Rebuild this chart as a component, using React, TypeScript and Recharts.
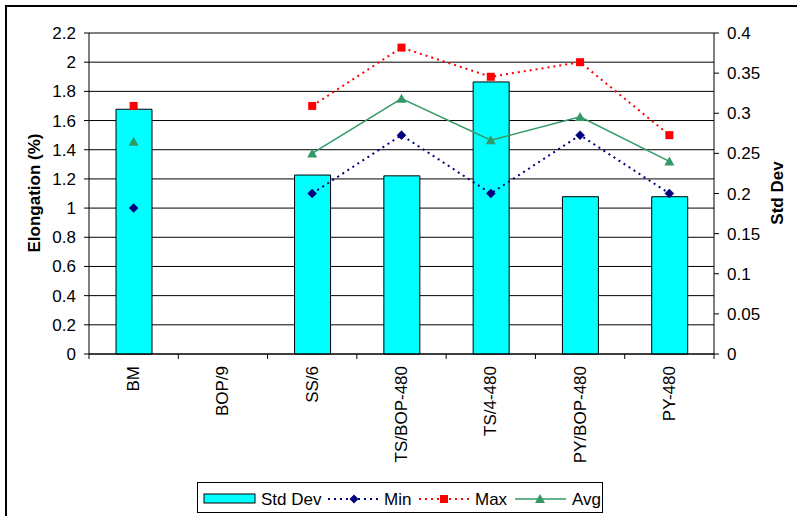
import React from 'react';
import {
  ComposedChart,
  Bar,
  Line,
  XAxis,
  YAxis,
  CartesianGrid,
} from 'recharts';

// Elongation test results per specimen group
const categories = ['BM', 'BOP/9', 'SS/6', 'TS/BOP-480', 'TS/4-480', 'PY/BOP-480', 'PY-480'];
const stdDevValues = [0.305, null, 0.223, 0.222, 0.339, 0.196, 0.196];
const minValues = [1.0, null, 1.1, 1.5, 1.1, 1.5, 1.1];
const maxValues = [1.7, null, 1.7, 2.1, 1.9, 2.0, 1.5];
const avgValues = [1.455, null, 1.375, 1.75, 1.465, 1.625, 1.32];

const leftTicks = [0, 0.2, 0.4, 0.6, 0.8, 1, 1.2, 1.4, 1.6, 1.8, 2, 2.2];
const rightTicks = [0, 0.05, 0.1, 0.15, 0.2, 0.25, 0.3, 0.35, 0.4];

const data = categories.map((name, i) => ({
  name,
  stdDev: stdDevValues[i],
  min: minValues[i],
  max: maxValues[i],
  avg: avgValues[i],
}));

const W = 797;
const H = 516;
const PLOT_LEFT = 89;
const PLOT_RIGHT = 714;
const PLOT_TOP = 33;
const PLOT_BOTTOM = 354;
const BAND = (PLOT_RIGHT - PLOT_LEFT) / categories.length;

const FONT = '"Liberation Sans", Arial, sans-serif';
const FS = 17;

const NAVY = '#000080';
const RED = '#FF0000';
const GREEN = '#339966';
const CYAN = '#00FFFF';

const diamondDot = (props: any) => {
  const { cx, cy, index } = props;
  if (cx == null || cy == null || props.value == null) return <g key={`d-${index}`} />;
  const r = 4.5;
  return (
    <path
      key={`d-${index}`}
      d={`M${cx},${cy - r}L${cx + r},${cy}L${cx},${cy + r}L${cx - r},${cy}Z`}
      fill={NAVY}
      stroke={NAVY}
      strokeWidth={0.5}
    />
  );
};

const squareDot = (props: any) => {
  const { cx, cy, index } = props;
  if (cx == null || cy == null || props.value == null) return <g key={`s-${index}`} />;
  const s = 4;
  return <rect key={`s-${index}`} x={cx - s} y={cy - s} width={2 * s} height={2 * s} fill={RED} />;
};

const triangleDot = (props: any) => {
  const { cx, cy, index } = props;
  if (cx == null || cy == null || props.value == null) return <g key={`t-${index}`} />;
  return (
    <path
      key={`t-${index}`}
      d={`M${cx},${cy - 5}L${cx + 5},${cy + 4}L${cx - 5},${cy + 4}Z`}
      fill={GREEN}
    />
  );
};

// Category label rotated to read bottom-to-top, plus Excel-style boundary tick marks
const CategoryTick = (props: any) => {
  const { x, y, payload, index } = props;
  const left = x - BAND / 2;
  const isLast = index === categories.length - 1;
  return (
    <g>
      <line x1={left} y1={PLOT_BOTTOM} x2={left} y2={PLOT_BOTTOM + 5} stroke="#000" />
      {isLast && (
        <line x1={x + BAND / 2} y1={PLOT_BOTTOM} x2={x + BAND / 2} y2={PLOT_BOTTOM + 5} stroke="#000" />
      )}
      <text
        x={x}
        y={y + 4}
        transform={`rotate(-90 ${x} ${y + 4})`}
        textAnchor="end"
        dominantBaseline="central"
        fontFamily={FONT}
        fontSize={FS}
        fill="#000"
      >
        {payload.value}
      </text>
    </g>
  );
};

const LegendBox = () => (
  <div
    style={{
      position: 'absolute',
      left: 197,
      top: 482,
      width: 406,
      height: 31,
      border: '1px solid #000',
      boxSizing: 'border-box',
      background: '#fff',
    }}
  >
    <svg width={406} height={31} style={{ position: 'absolute', left: 0, top: 0 }}>
      <rect x={6} y={11} width={51} height={9} fill={CYAN} stroke="#000" />
      <text x={63} y={16} dominantBaseline="central" fontFamily={FONT} fontSize={FS}>Std Dev</text>

      <line x1={130} y1={16} x2={181} y2={16} stroke={NAVY} strokeWidth={2} strokeDasharray="2 4" />
      <path d="M156,11.5L160.5,16L156,20.5L151.5,16Z" fill={NAVY} />
      <text x={186} y={16} dominantBaseline="central" fontFamily={FONT} fontSize={FS}>Min</text>

      <line x1={221} y1={16} x2={271} y2={16} stroke={RED} strokeWidth={2} strokeDasharray="2 4" />
      <rect x={242} y={12} width={8} height={8} fill={RED} />
      <text x={277} y={16} dominantBaseline="central" fontFamily={FONT} fontSize={FS}>Max</text>

      <line x1={317} y1={16} x2={368} y2={16} stroke={GREEN} strokeWidth={1.5} />
      <path d="M342,11L347,20L337,20Z" fill={GREEN} />
      <text x={374} y={16} dominantBaseline="central" fontFamily={FONT} fontSize={FS}>Avg</text>
    </svg>
  </div>
);

export default function App() {
  return (
    <div
      style={{
        position: 'absolute',
        left: 0,
        top: 0,
        width: W,
        height: H,
        overflow: 'hidden',
        background: '#fff',
      }}
    >
      <div
        style={{
          position: 'absolute',
          left: 5,
          top: 5,
          width: 900,
          height: 700,
          border: '2px solid #000',
        }}
      />
      <div style={{ position: 'absolute', left: 0, top: 0 }}>
        <ComposedChart
          width={W}
          height={H}
          data={data}
          margin={{ top: PLOT_TOP, right: 0, bottom: 0, left: 0 }}
          barCategoryGap={0}
        >
          <CartesianGrid
            yAxisId="left"
            vertical={false}
            stroke="#000"
            strokeWidth={1}
          />
          <XAxis
            dataKey="name"
            height={H - PLOT_BOTTOM}
            tickLine={false}
            axisLine={{ stroke: '#000' }}
            tick={<CategoryTick />}
            interval={0}
          />
          <YAxis
            yAxisId="left"
            orientation="left"
            width={PLOT_LEFT}
            domain={[0, 2.2]}
            ticks={leftTicks}
            interval={0}
            tickSize={5}
            tickMargin={8}
            axisLine={{ stroke: '#000' }}
            tickLine={{ stroke: '#000' }}
            tick={{ fill: '#000', fontFamily: FONT, fontSize: FS }}
            label={{
              content: () => (
                <text
                  x={34}
                  y={193}
                  transform="rotate(-90 34 193)"
                  textAnchor="middle"
                  dominantBaseline="central"
                  fontFamily={FONT}
                  fontSize={FS}
                  fontWeight="bold"
                  fill="#000"
                >
                  Elongation (%)
                </text>
              ),
            }}
          />
          <YAxis
            yAxisId="right"
            orientation="right"
            width={W - PLOT_RIGHT}
            domain={[0, 0.4]}
            ticks={rightTicks}
            interval={0}
            tickSize={5}
            tickMargin={8}
            axisLine={{ stroke: '#000' }}
            tickLine={{ stroke: '#000' }}
            tick={{ fill: '#000', fontFamily: FONT, fontSize: FS, textAnchor: 'start' }}
            label={{
              content: () => (
                <text
                  x={777}
                  y={193}
                  transform="rotate(-90 777 193)"
                  textAnchor="middle"
                  dominantBaseline="central"
                  fontFamily={FONT}
                  fontSize={FS}
                  fontWeight="bold"
                  fill="#000"
                >
                  Std Dev
                </text>
              ),
            }}
          />
          <Bar
            yAxisId="right"
            dataKey="stdDev"
            barSize={36}
            fill={CYAN}
            stroke="#000"
            strokeWidth={1}
            isAnimationActive={false}
          />
          <Line
            yAxisId="left"
            dataKey="min"
            stroke={NAVY}
            strokeWidth={2}
            strokeDasharray="2 4"
            dot={diamondDot}
            activeDot={false}
            isAnimationActive={false}
          />
          <Line
            yAxisId="left"
            dataKey="max"
            stroke={RED}
            strokeWidth={2}
            strokeDasharray="2 4"
            dot={squareDot}
            activeDot={false}
            isAnimationActive={false}
          />
          <Line
            yAxisId="left"
            dataKey="avg"
            stroke={GREEN}
            strokeWidth={1.5}
            dot={triangleDot}
            activeDot={false}
            isAnimationActive={false}
          />
        </ComposedChart>
      </div>
      <LegendBox />
    </div>
  );
}
